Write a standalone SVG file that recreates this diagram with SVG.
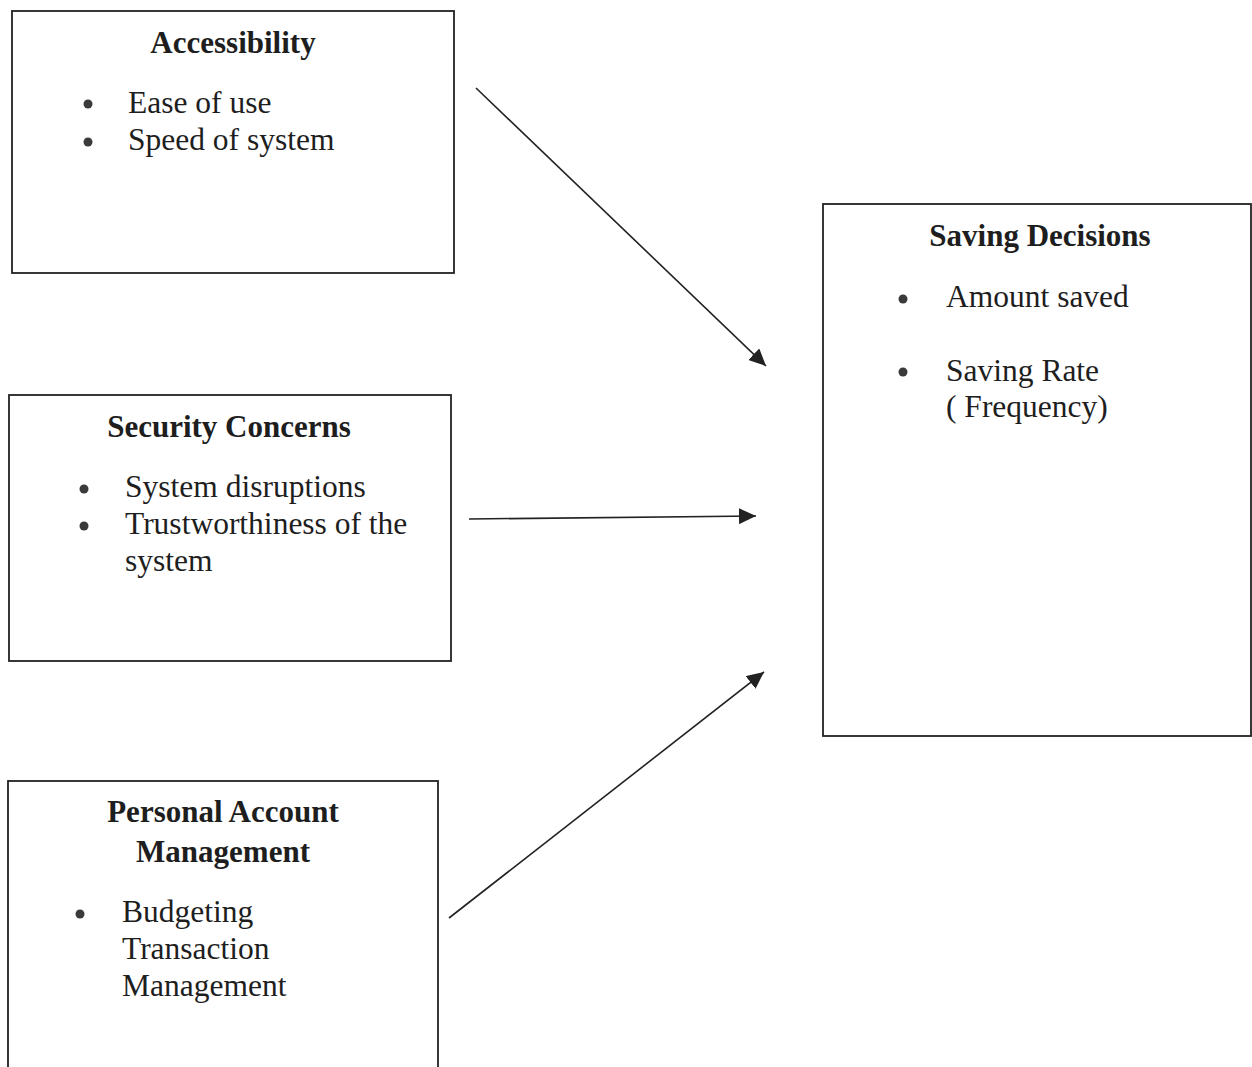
<svg xmlns="http://www.w3.org/2000/svg" width="1252" height="1067" viewBox="0 0 1252 1067">
<style>
.box{fill:#fff;stroke:#222;stroke-width:1.8}
.title{font-family:"Liberation Serif","Times New Roman",serif;font-weight:bold;font-size:31px;fill:#1e1e1e;text-anchor:middle}
.item{font-family:"Liberation Serif","Times New Roman",serif;font-size:31.5px;fill:#1e1e1e}
.bullet{fill:#3a3a3a}
.conn{stroke:#222;stroke-width:1.6;fill:none;marker-end:url(#arrow)}
</style>
<defs>
<marker id="arrow" markerUnits="userSpaceOnUse" markerWidth="18" markerHeight="16" refX="17" refY="8" orient="auto">
<path d="M0,0 L17,8 L0,16 Z" fill="#222"/>
</marker>
</defs>
<rect width="1252" height="1067" fill="#fff"/>
<g id="node-accessibility">
<rect class="box" x="12" y="11" width="442" height="262"/>
<text class="title" x="233" y="53">Accessibility</text>
<circle class="bullet" cx="88" cy="104" r="4.5"/>
<circle class="bullet" cx="88" cy="142" r="4.5"/>
<text class="item" x="128" y="113">Ease of use</text>
<text class="item" x="128" y="150">Speed of system</text>
</g>
<g id="node-security">
<rect class="box" x="9" y="395" width="442" height="266"/>
<text class="title" x="229" y="437">Security Concerns</text>
<circle class="bullet" cx="84" cy="489" r="4.5"/>
<circle class="bullet" cx="84" cy="526" r="4.5"/>
<text class="item" x="125" y="497">System disruptions</text>
<text class="item" x="125" y="534">Trustworthiness of the</text>
<text class="item" x="125" y="571">system</text>
</g>
<g id="node-personal">
<rect class="box" x="8" y="781" width="430" height="300"/>
<text class="title" x="223" y="822">Personal Account</text>
<text class="title" x="223" y="862">Management</text>
<circle class="bullet" cx="80" cy="914" r="4.5"/>
<text class="item" x="122" y="922">Budgeting</text>
<text class="item" x="122" y="959">Transaction</text>
<text class="item" x="122" y="996">Management</text>
</g>
<g id="node-saving">
<rect class="box" x="823" y="204" width="428" height="532"/>
<text class="title" x="1040" y="246">Saving Decisions</text>
<circle class="bullet" cx="903" cy="299" r="4.5"/>
<circle class="bullet" cx="903" cy="372" r="4.5"/>
<text class="item" x="946" y="307">Amount saved</text>
<text class="item" x="946" y="381">Saving Rate</text>
<text class="item" x="946" y="417">( Frequency)</text>
</g>
<g id="connectors">
<line class="conn" x1="476" y1="88" x2="766" y2="366"/>
<line class="conn" x1="469" y1="519" x2="756" y2="516"/>
<line class="conn" x1="449" y1="918" x2="764" y2="672"/>
</g>
</svg>
